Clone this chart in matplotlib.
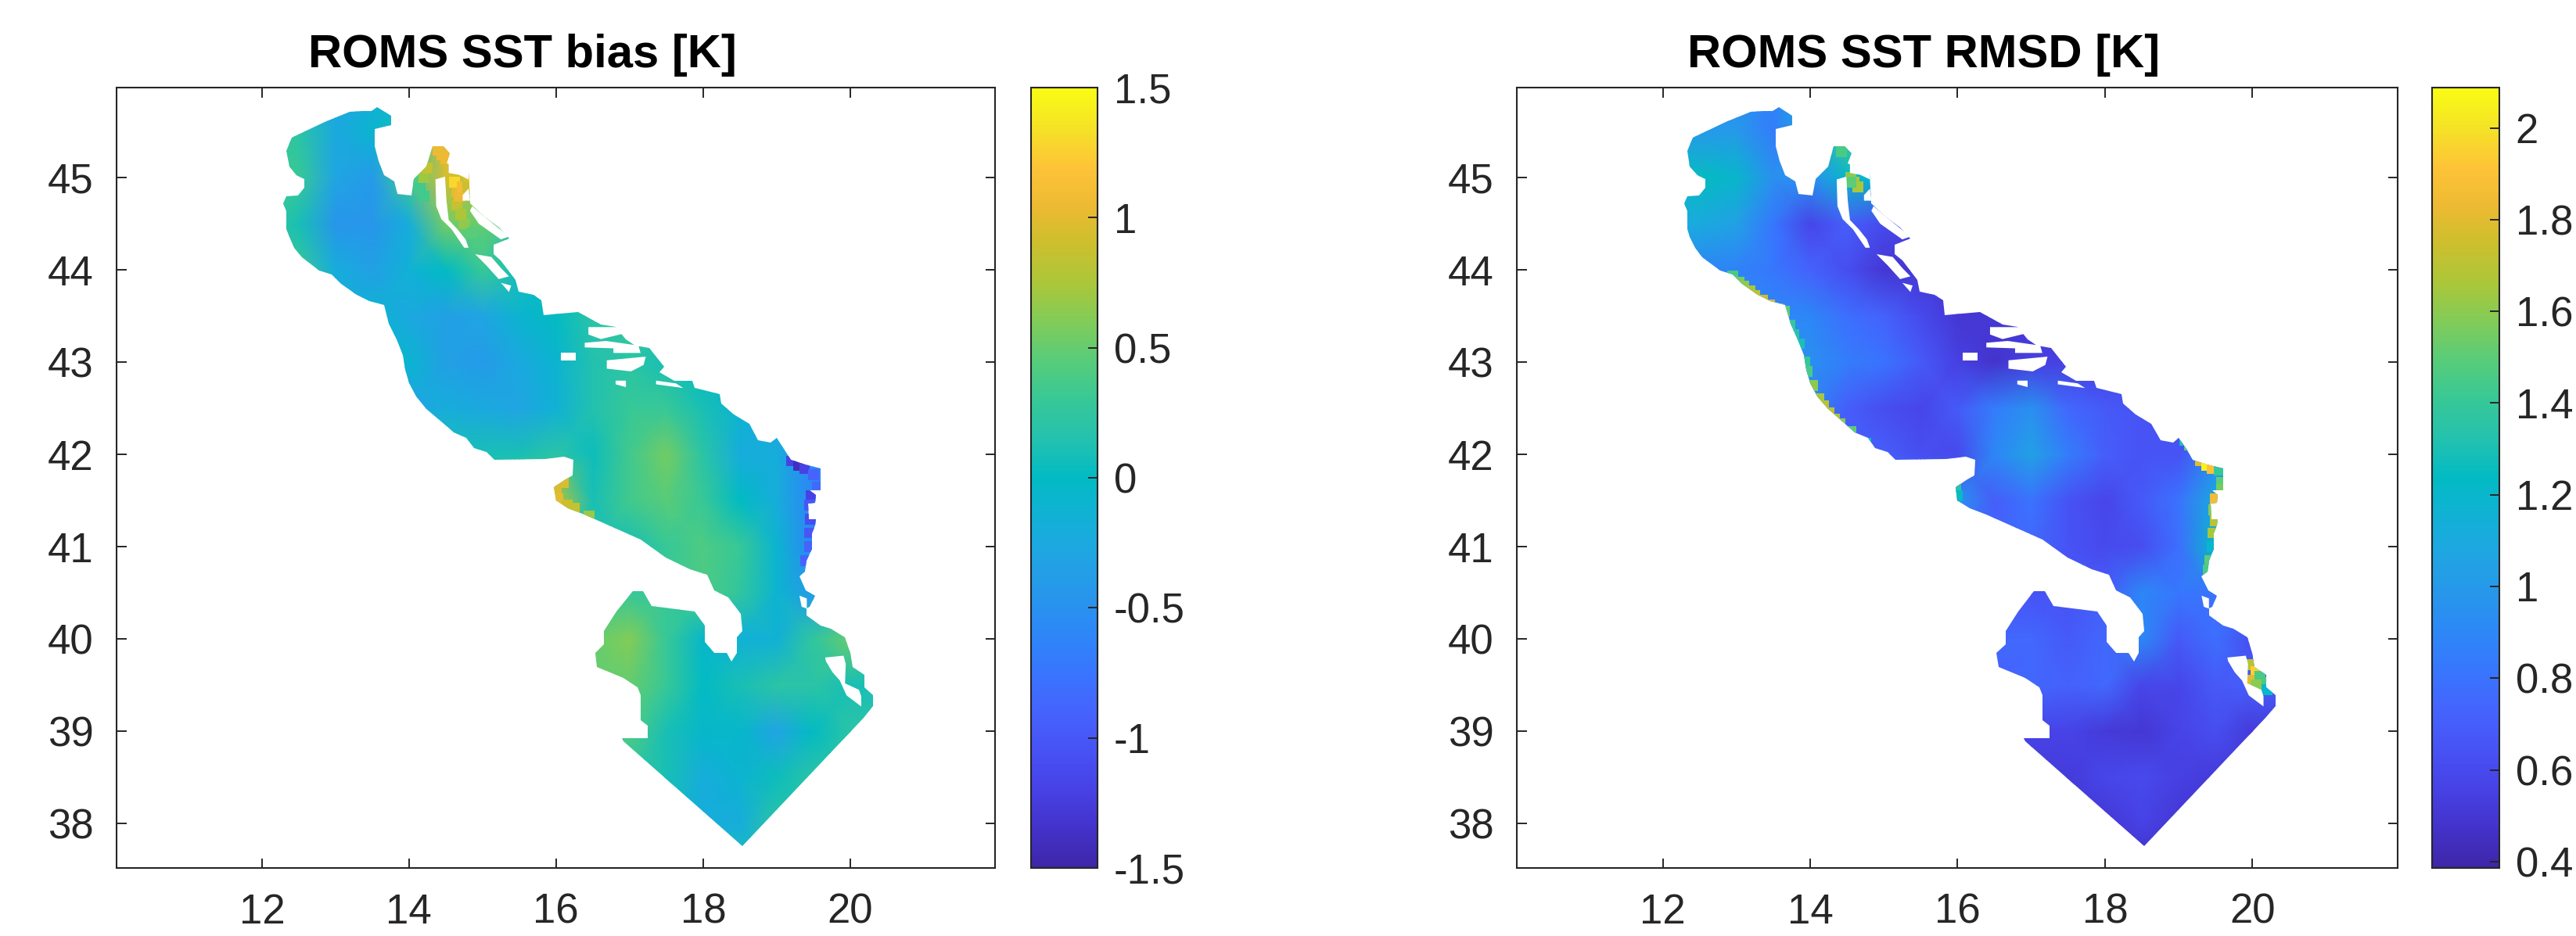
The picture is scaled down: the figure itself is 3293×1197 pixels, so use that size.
import numpy as np
import matplotlib
matplotlib.use("Agg")
import matplotlib.pyplot as plt
from matplotlib.colors import LinearSegmentedColormap
from matplotlib.path import Path
from matplotlib.patches import PathPatch

plt.rcParams['font.family'] = ['Liberation Sans', 'DejaVu Sans']

# parula colours
parula_rgb = [(0.2422,0.1504,0.6603),(0.2647,0.1978,0.7952),(0.2783,0.2559,0.8991),(0.2810,0.3228,0.9579),
              (0.2699,0.3892,0.9906),(0.2206,0.4603,0.9973),(0.1786,0.5289,0.9682),(0.1540,0.5902,0.9218),
              (0.1248,0.6459,0.8883),(0.0689,0.6948,0.8394),(0.0067,0.7312,0.7660),(0.1408,0.7584,0.6842),
              (0.2161,0.7843,0.5923),(0.3406,0.8008,0.4789),(0.5044,0.7993,0.3480),(0.6691,0.7793,0.2273),
              (0.8000,0.7500,0.1800),(0.9300,0.7300,0.2000),(0.9970,0.7659,0.2199),(0.9600,0.8900,0.1500),
              (0.9769,0.9839,0.0805)]
parula = LinearSegmentedColormap.from_list("parula", parula_rgb, N=256)

# model sea outline (lon, lat), clockwise from the Gulf of Trieste
coast_lon = [13.57,13.76,13.76,13.53,13.53,13.59,13.66,13.80,13.84,14.03,14.07,14.24,14.32,14.47,14.56,14.51,14.81,14.83,15.02,15.22,15.36,15.15,15.15,15.25,15.45,15.49,15.69,15.80,15.83,16.30,16.61,16.81,16.95,17.08,17.27,17.47,17.41,17.61,17.85,17.88,18.22,18.25,18.42,18.63,18.75,18.92,19.0,19.10,19.19,19.38,19.60,19.60,19.45,19.53,19.52,19.43,19.44,19.53,19.52,19.48,19.48,19.41,19.39,19.31,19.40,19.52,19.45,19.41,19.41,19.60,19.74,19.93,20.0,20.03,20.19,20.19,20.31,20.31,20.18,18.53,16.92,16.90,17.25,17.25,17.15,17.15,17.11,16.92,16.56,16.53,16.65,16.65,16.82,17.04,17.18,17.30,17.89,18.02,18.02,18.15,18.32,18.39,18.46,18.46,18.53,18.51,18.34,18.15,18.05,17.82,17.49,17.15,16.77,16.39,16.16,16.0,15.97,16.13,16.23,16.24,16.11,15.85,15.16,15.05,14.88,14.78,14.61,14.51,14.24,14.10,14.0,13.95,13.92,13.83,13.73,13.66,13.46,13.29,13.08,12.95,12.78,12.54,12.44,12.37,12.33,12.33,12.29,12.33,12.49,12.58,12.58,12.47,12.37,12.33,12.41,12.61,12.85,13.19,13.36,13.49]
coast_lat = [45.76,45.67,45.57,45.53,45.34,45.18,45.03,44.96,44.82,44.81,44.98,45.12,45.34,45.34,45.26,45.15,45.06,44.72,44.58,44.46,44.34,44.27,44.17,44.10,43.89,43.76,43.73,43.67,43.51,43.54,43.41,43.38,43.25,43.18,43.15,42.95,42.89,42.80,42.80,42.72,42.65,42.55,42.43,42.33,42.15,42.13,42.18,42.06,41.94,41.89,41.85,41.61,41.61,41.56,41.48,41.47,41.30,41.30,41.23,41.15,40.98,40.85,40.73,40.68,40.53,40.47,40.35,40.33,40.26,40.15,40.11,40.02,39.85,39.70,39.61,39.48,39.39,39.27,39.15,37.76,38.89,38.93,38.93,39.06,39.12,39.39,39.48,39.58,39.70,39.85,39.94,40.09,40.30,40.52,40.52,40.36,40.30,40.15,39.97,39.85,39.85,39.76,39.85,40.02,40.09,40.27,40.45,40.53,40.70,40.76,40.88,41.08,41.21,41.35,41.42,41.50,41.65,41.73,41.77,41.94,41.98,41.95,41.94,42.03,42.07,42.18,42.24,42.31,42.49,42.63,42.77,42.92,43.08,43.25,43.42,43.62,43.66,43.73,43.85,43.95,43.99,44.14,44.24,44.36,44.44,44.64,44.72,44.80,44.81,44.89,44.98,45.03,45.12,45.29,45.43,45.51,45.60,45.71,45.72,45.72]

# islands left white inside the sea
island_lons = [[14.54,14.66,14.81,14.81,14.68,14.54],
               [14.73,14.81,14.83,14.73],
               [14.36,14.49,14.51,14.54,14.66,14.77,14.81,14.75,14.58,14.44,14.37],
               [14.86,15.02,15.36,15.25,14.95,14.83],
               [14.90,15.12,15.25,15.36,15.22,15.05],
               [15.25,15.39,15.36],
               [16.44,16.85,16.92,16.61,16.44],
               [16.39,16.68,17.12,17.15,16.78,16.78,16.39],
               [16.07,16.27,16.27,16.07],
               [16.69,17.22,17.19,17.02,16.69],
               [16.81,16.95,16.95,16.81],
               [17.36,17.63,17.73,17.36],
               [19.66,19.91,19.94,19.93,20.12,20.15,20.15,19.95,19.86,19.76,19.67],
               [19.31,19.41,19.41,19.34]]
island_lats = [[45.19,45.19,45.08,44.98,45.03,45.05],
               [44.81,44.88,44.75,44.75],
               [44.98,45.01,44.75,44.54,44.44,44.33,44.24,44.24,44.44,44.55,44.69],
               [44.69,44.58,44.36,44.33,44.50,44.64],
               [44.17,44.14,44.02,43.93,43.90,44.05],
               [43.86,43.83,43.76],
               [43.38,43.38,43.31,43.25,43.30],
               [43.21,43.23,43.18,43.10,43.10,43.15,43.16],
               [43.10,43.10,43.02,43.02],
               [43.02,43.06,42.97,42.90,42.93],
               [42.80,42.80,42.73,42.76],
               [42.80,42.77,42.72,42.76],
               [39.80,39.82,39.73,39.52,39.45,39.38,39.27,39.39,39.55,39.64,39.76],
               [40.47,40.44,40.33,40.35]]

grid_lon = [12.0,12.5,13.0,13.5,14.0,14.5,15.0,15.5,16.0,16.5,17.0,17.5,18.0,18.5,19.0,19.5,20.0,20.5]
grid_lat = [46.0,45.5,45.0,44.5,44.0,43.5,43.0,42.5,42.0,41.5,41.0,40.5,40.0,39.5,39.0,38.5,38.0,37.5]

bias = [
 [0.1,0.1,-0.3,-0.2,0.0,1.0,1.0,0.3,0.2,0.2,0.2,0.2,0.2,0.2,0.2,0.2,0.2,0.2],
 [0.3,0.2,-0.25,-0.1,0.1,1.0,1.0,0.3,0.2,0.2,0.2,0.2,0.2,0.2,0.2,0.2,0.2,0.2],
 [0.4,0.3,-0.3,-0.4,0.35,0.95,0.8,0.2,0.2,0.2,0.2,0.2,0.2,0.2,0.2,0.2,0.2,0.2],
 [0.3,0.1,-0.45,-0.45,-0.2,0.55,0.5,0.2,0.1,0.1,0.1,0.1,0.1,0.1,0.1,0.1,0.1,0.1],
 [0.3,0.3,-0.2,-0.35,-0.15,0.0,0.3,0.1,0.0,0.1,0.1,0.1,0.1,0.1,0.1,0.1,0.1,0.1],
 [0.2,0.2,-0.2,-0.1,-0.25,-0.35,-0.3,-0.1,0.0,0.2,0.3,0.2,0.1,0.1,0.1,0.1,0.1,0.1],
 [0.1,0.1,0.0,-0.1,-0.1,-0.35,-0.4,-0.25,-0.1,0.15,0.2,0.1,0.0,-0.1,-0.1,-0.1,-0.1,-0.1],
 [0.0,0.0,0.0,-0.1,-0.3,-0.2,-0.25,-0.3,-0.15,0.15,0.3,0.3,0.1,-0.1,-0.3,-0.3,-0.3,-0.3],
 [0.1,0.1,0.1,0.1,0.1,0.1,0.1,0.1,0.2,0.05,0.35,0.55,0.2,-0.2,-0.2,-0.6,-0.8,-0.8],
 [0.3,0.3,0.3,0.3,0.3,0.3,0.3,0.4,0.8,0.1,0.35,0.45,0.3,0.0,-0.2,-0.6,-0.8,-0.8],
 [0.3,0.3,0.3,0.3,0.3,0.3,0.3,0.3,0.3,0.2,0.1,0.3,0.4,0.3,-0.1,-0.6,-0.7,-0.7],
 [0.3,0.3,0.3,0.3,0.3,0.3,0.3,0.3,0.3,0.3,0.3,0.3,0.4,0.25,-0.1,-0.4,-0.2,-0.2],
 [0.5,0.5,0.5,0.5,0.5,0.5,0.5,0.5,0.5,0.5,0.6,0.3,-0.05,-0.15,-0.15,0.25,0.5,0.3],
 [0.5,0.5,0.5,0.5,0.5,0.5,0.5,0.5,0.5,0.5,0.5,0.3,0.0,0.1,0.2,0.2,0.1,0.1],
 [0.4,0.4,0.4,0.4,0.4,0.4,0.4,0.4,0.4,0.4,0.4,0.1,-0.05,-0.05,-0.3,0.0,0.2,0.2],
 [0.2,0.2,0.2,0.2,0.2,0.2,0.2,0.2,0.2,0.2,0.2,0.1,-0.2,-0.1,0.05,0.2,0.2,0.2],
 [0.1,0.1,0.1,0.1,0.1,0.1,0.1,0.1,0.1,0.1,0.1,0.0,-0.2,-0.2,0.2,0.2,0.2,0.2],
 [0.1,0.1,0.1,0.1,0.1,0.1,0.1,0.1,0.1,0.1,0.1,0.1,0.1,0.1,0.1,0.1,0.1,0.1]]

rmsd = [
 [0.9,0.9,0.9,0.9,1.2,1.4,1.4,1.0,0.8,0.8,0.8,0.8,0.8,0.8,0.8,0.8,0.8,0.8],
 [1.0,1.0,1.0,0.85,1.1,1.45,1.4,1.0,0.8,0.8,0.8,0.8,0.8,0.8,0.8,0.8,0.8,0.8],
 [1.25,1.25,1.2,0.95,0.95,1.2,1.2,0.8,0.7,0.7,0.7,0.7,0.7,0.7,0.7,0.7,0.7,0.7],
 [1.1,1.1,1.05,0.82,0.58,0.7,0.6,0.55,0.6,0.6,0.6,0.6,0.6,0.6,0.6,0.6,0.6,0.6],
 [0.9,0.9,0.88,0.82,0.72,0.62,0.5,0.5,0.5,0.5,0.5,0.5,0.5,0.5,0.5,0.5,0.5,0.5],
 [0.95,0.95,0.95,0.9,0.9,0.78,0.72,0.6,0.5,0.5,0.5,0.5,0.5,0.5,0.5,0.5,0.5,0.5],
 [0.95,0.95,0.95,0.95,0.95,0.85,0.8,0.68,0.55,0.48,0.55,0.55,0.55,0.55,0.55,0.55,0.55,0.55],
 [0.9,0.9,0.9,0.9,0.9,0.7,0.62,0.58,0.68,0.85,0.95,0.75,0.68,0.65,0.65,0.65,0.65,0.65],
 [0.7,0.7,0.7,0.7,0.7,0.7,0.7,0.62,0.6,0.9,1.05,0.85,0.7,0.65,0.65,0.9,0.9,0.9],
 [0.9,0.9,0.9,0.9,0.9,0.9,0.9,0.9,0.95,0.7,0.8,0.65,0.58,0.68,0.8,1.1,1.1,1.1],
 [0.75,0.75,0.75,0.75,0.75,0.75,0.75,0.75,0.75,0.75,0.75,0.65,0.6,0.62,0.78,1.2,1.2,1.2],
 [0.65,0.65,0.65,0.65,0.65,0.65,0.65,0.65,0.65,0.65,0.65,0.65,0.7,0.9,0.82,0.8,0.8,0.8],
 [0.75,0.75,0.75,0.75,0.75,0.75,0.75,0.75,0.75,0.75,0.75,0.68,0.75,0.9,0.68,0.78,0.62,0.62],
 [0.72,0.72,0.72,0.72,0.72,0.72,0.72,0.72,0.72,0.72,0.75,0.72,0.75,0.58,0.58,0.68,0.7,0.7],
 [0.57,0.57,0.57,0.57,0.57,0.57,0.57,0.57,0.57,0.57,0.57,0.57,0.52,0.5,0.57,0.62,0.52,0.52],
 [0.52,0.52,0.52,0.52,0.52,0.52,0.52,0.52,0.52,0.52,0.52,0.52,0.58,0.6,0.55,0.52,0.52,0.52],
 [0.5,0.5,0.5,0.5,0.5,0.5,0.5,0.5,0.5,0.5,0.5,0.5,0.5,0.56,0.5,0.48,0.48,0.48],
 [0.45,0.45,0.45,0.45,0.45,0.45,0.45,0.45,0.45,0.45,0.45,0.45,0.45,0.45,0.45,0.45,0.45,0.45]]

# narrow coastal values the coarse grid misses
bias_spot_lon = [16.0,16.02,16.1,16.15,16.25,16.45,19.2,19.3,19.38,19.5,19.55,19.47,19.45,19.46,19.45,19.45,19.4,14.15,14.2,14.1,14.4,14.65,14.65,14.75,14.95,14.45,14.5,14.62,14.68,14.72,14.7,14.85,14.82,14.8,14.2,14.25]
bias_spot_lat = [41.62,41.52,41.7,41.45,41.42,41.33,41.93,41.88,41.85,41.78,41.65,41.55,41.45,41.3,41.15,41.0,40.85,44.9,44.8,45.0,45.3,44.85,44.7,44.5,44.3,45.25,45.2,44.95,44.8,44.9,44.6,44.4,45.0,44.9,45.0,45.1]
bias_spot_val = [0.95,1.0,0.95,0.9,0.85,0.7,-1.2,-1.4,-1.2,-0.9,-0.85,-1.2,-1.0,-1.1,-1.0,-0.9,-0.9,0.35,0.35,0.4,1.05,1.0,0.85,0.65,0.4,1.05,1.05,1.3,1.05,1.1,0.75,0.45,1.0,0.9,0.7,0.85]
rmsd_spot_lon = [19.3,19.38,19.45,19.55,19.58,19.58,19.5,19.48,19.5,19.47,19.45,19.42,19.4,19.15,19.08,20.0,20.05,20.0,20.1,20.15,20.05,20.2,12.95,13.03,13.1,13.18,13.25,13.35,13.45,13.55,13.65,13.72,13.78,13.85,13.93,13.96,14.03,14.12,14.18,14.25,14.33,14.4,14.55,14.75,15.97,16.0,14.42,14.6,14.65,14.55,14.55]
rmsd_spot_lat = [41.93,41.88,41.85,41.83,41.7,41.62,41.52,41.4,41.28,41.15,41.0,40.85,40.75,42.1,42.15,39.72,39.65,39.55,39.6,39.53,39.5,39.45,43.93,43.87,43.82,43.77,43.72,43.67,43.62,43.58,43.55,43.4,43.3,43.2,43.0,42.9,42.75,42.6,42.53,42.45,42.38,42.33,42.25,42.12,41.62,41.55,45.28,44.95,44.9,45.0,44.95]
rmsd_spot_val = [1.8,2.05,1.9,1.4,1.5,1.55,1.85,1.6,1.7,1.65,1.2,1.5,1.45,1.5,1.3,1.7,1.95,1.8,1.45,1.45,1.6,1.2,1.45,1.55,1.6,1.65,1.7,1.75,1.75,1.7,1.5,1.4,1.35,1.3,1.4,1.45,1.6,1.65,1.7,1.7,1.65,1.6,1.5,1.25,1.35,1.25,1.45,1.65,1.65,1.6,1.5]

lon_ticks = [12,14,16,18,20]
lat_ticks = [38,39,40,41,42,43,44,45]
bias_ticks = [-1.5,-1,-0.5,0,0.5,1,1.5]
bias_labels = ['-1.5','-1','-0.5','0','0.5','1','1.5']
rmsd_ticks = [0.4,0.6,0.8,1,1.2,1.4,1.6,1.8,2]
rmsd_labels = ['0.4','0.6','0.8','1','1.2','1.4','1.6','1.8','2']

W, H = 3293, 1197
DARK = '#262626'
fig = plt.figure(figsize=(W/100, H/100), dpi=100)

def panel(ax_left, ax_right, cb_left, cb_right, field, spot_lon, spot_lat, spot_val, vmin, vmax, title, cticks, clabels):
    ax = fig.add_axes([ax_left/W, 1-1110/H, (ax_right-ax_left)/W, 998/H])
    X, Y = np.meshgrid(grid_lon, grid_lat)
    clip = PathPatch(Path(np.column_stack([coast_lon, coast_lat]), closed=False), facecolor='none', edgecolor='none')
    ax.add_patch(clip)
    mesh = ax.pcolormesh(X, Y, np.array(field), cmap=parula, vmin=vmin, vmax=vmax, shading='gouraud')
    mesh.set_clip_path(clip)
    sc = ax.scatter(spot_lon, spot_lat, c=spot_val, cmap=parula, vmin=vmin, vmax=vmax, marker='s', s=100, linewidths=0)
    sc.set_clip_path(clip)
    for lons, lats in zip(island_lons, island_lats):
        ax.fill(lons, lats, color='white', linewidth=0, zorder=3)
    ax.set_xlim(10.02, 21.97)
    ax.set_ylim(37.52, 45.975)
    ax.set_xticks(lon_ticks)
    ax.set_yticks(lat_ticks)
    ax.tick_params(direction='in', length=9, width=1.4, color=DARK, labelcolor=DARK, labelsize=38,
                   top=True, right=True)
    ax.tick_params(axis='x', pad=23)
    ax.tick_params(axis='y', pad=21)
    for s in ax.spines.values():
        s.set_linewidth(1.5)
        s.set_color(DARK)
    ax.set_title(title, fontsize=43, fontweight='bold', color='black', pad=19, x=0.462)

    cax = fig.add_axes([cb_left/W, 1-1110/H, (cb_right-cb_left)/W, 998/H])
    cb = fig.colorbar(mesh, cax=cax)
    cb.set_ticks(cticks)
    cb.set_ticklabels(clabels)
    cax.tick_params(direction='in', length=9, width=1.4, color=DARK, labelcolor=DARK, labelsize=38, pad=15)
    cb.outline.set_linewidth(1.5)
    cb.outline.set_edgecolor(DARK)

panel(148.7, 1272, 1318, 1403, bias, bias_spot_lon, bias_spot_lat, bias_spot_val, -1.5, 1.5,
      'ROMS SST bias [K]', bias_ticks, bias_labels)
panel(1939, 3065, 3109, 3195, rmsd, rmsd_spot_lon, rmsd_spot_lat, rmsd_spot_val, 0.386, 2.088,
      'ROMS SST RMSD [K]', rmsd_ticks, rmsd_labels)

fig.savefig("out.png", dpi=100)
